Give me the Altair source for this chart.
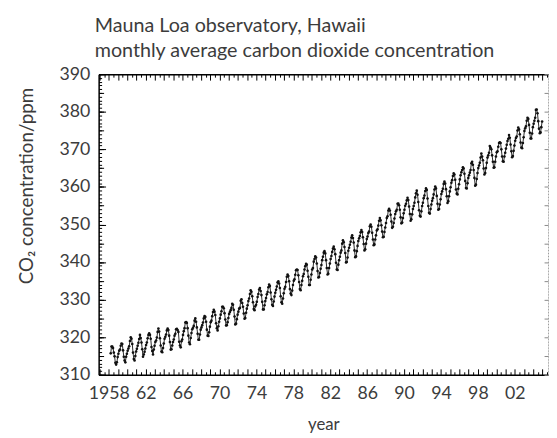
import altair as alt
import pandas as pd

# Monthly mean CO2 (ppm) at Mauna Loa, read per year (Jan..Dec); 1958 starts in March
co2_1958 = [315.7, 317.5, 317.5, 317.1, 315.9, 314.9, 313.2, 312.7, 313.3, 314.7]
co2_1959 = [315.6, 316.4, 316.7, 317.7, 318.3, 318.2, 316.5, 314.8, 313.8, 313.3, 314.8, 315.6]
co2_1960s = [
    [316.4, 317.0, 317.6, 319.0, 320.0, 319.6, 318.2, 315.9, 314.2, 313.8, 315.0, 316.2],
    [316.9, 317.7, 318.5, 319.5, 320.6, 319.8, 318.6, 316.8, 314.8, 315.4, 316.1, 317.0],
    [317.9, 318.6, 319.7, 320.6, 321.0, 320.6, 319.6, 317.4, 316.3, 315.4, 316.7, 317.7],
    [318.7, 319.1, 319.9, 321.4, 322.3, 321.5, 319.7, 317.8, 316.2, 316.0, 317.1, 318.3],
    [319.6, 320.1, 320.7, 321.8, 322.3, 321.9, 320.4, 318.7, 316.7, 316.8, 317.8, 318.7],
    [319.4, 320.4, 320.9, 322.1, 322.2, 321.9, 321.4, 318.8, 317.8, 317.3, 318.9, 319.4],
    [320.6, 321.6, 322.4, 323.9, 324.0, 323.8, 322.4, 320.4, 318.6, 318.1, 319.8, 321.1],
    [322.1, 322.5, 323.0, 324.4, 325.0, 324.1, 322.6, 320.9, 319.3, 319.3, 320.7, 322.0],
    [322.6, 323.2, 323.9, 325.0, 325.6, 325.4, 324.1, 322.0, 320.4, 320.3, 321.3, 322.8],
    [324.0, 324.4, 325.6, 326.7, 327.3, 326.8, 325.9, 323.7, 322.4, 321.8, 322.9, 324.1],
]
co2_1970s = [
    [325.0, 326.0, 326.9, 328.1, 328.1, 327.7, 326.4, 324.7, 323.1, 323.2, 324.0, 325.1],
    [326.2, 326.7, 327.2, 327.8, 328.9, 328.6, 327.3, 325.5, 323.4, 323.6, 324.8, 326.0],
    [326.8, 327.6, 327.8, 329.7, 330.1, 329.1, 328.1, 326.3, 324.9, 325.1, 326.5, 327.6],
    [328.5, 329.6, 330.3, 331.5, 332.5, 332.1, 330.9, 329.3, 327.5, 327.2, 328.2, 328.6],
    [329.4, 330.7, 331.5, 332.7, 333.1, 332.3, 331.2, 329.4, 327.4, 327.4, 328.5, 329.6],
    [330.4, 331.4, 332.0, 333.3, 334.0, 333.6, 331.9, 330.1, 328.6, 328.3, 329.5, 330.8],
    [331.8, 332.6, 333.5, 334.6, 334.9, 334.3, 333.1, 330.9, 329.3, 328.9, 330.3, 331.7],
    [332.9, 333.4, 334.7, 336.1, 336.7, 336.3, 334.9, 332.8, 331.6, 331.2, 332.4, 333.9],
    [335.0, 335.4, 336.6, 337.8, 338.0, 337.9, 336.5, 334.7, 332.8, 332.5, 333.9, 335.0],
    [336.2, 336.8, 338.0, 338.9, 339.5, 339.3, 337.7, 336.1, 333.9, 333.9, 335.3, 336.7],
]
co2_1980s = [
    [338.0, 338.4, 340.1, 340.8, 341.5, 341.2, 339.6, 337.6, 335.9, 336.0, 337.1, 338.2],
    [339.2, 340.5, 341.4, 342.5, 342.9, 342.3, 340.5, 338.4, 336.7, 336.9, 338.4, 339.6],
    [340.8, 341.6, 342.7, 343.6, 344.1, 343.4, 342.1, 339.8, 338.0, 337.9, 339.3, 340.5],
    [341.4, 342.5, 343.1, 344.9, 345.8, 345.3, 344.0, 342.4, 339.9, 340.0, 341.2, 343.0],
    [343.8, 344.6, 345.4, 346.5, 347.1, 346.4, 345.2, 343.1, 341.3, 341.5, 342.9, 344.3],
    [345.6, 346.3, 346.9, 347.9, 348.5, 348.0, 346.6, 344.8, 343.1, 343.4, 344.9, 346.1],
    [346.8, 347.7, 348.1, 349.5, 350.0, 349.4, 347.8, 346.0, 344.5, 344.7, 346.0, 347.1],
    [348.4, 348.7, 349.7, 351.0, 351.7, 351.1, 349.8, 348.1, 346.6, 346.7, 348.0, 349.2],
    [350.4, 351.7, 352.2, 353.7, 354.2, 353.7, 352.6, 350.8, 349.1, 349.4, 350.4, 351.6],
    [352.8, 353.5, 353.9, 355.5, 355.6, 355.1, 353.9, 351.9, 350.3, 350.5, 351.7, 353.0],
]
co2_1990s = [
    [353.9, 355.0, 355.5, 356.4, 357.1, 356.5, 354.8, 352.8, 351.0, 351.4, 352.7, 354.1],
    [354.9, 355.8, 357.2, 358.3, 359.0, 357.9, 356.0, 353.8, 352.3, 352.1, 353.5, 354.9],
    [355.8, 357.0, 357.7, 358.9, 359.6, 359.2, 356.9, 354.9, 353.1, 352.9, 354.1, 355.3],
    [356.3, 357.0, 358.0, 359.3, 360.1, 359.6, 357.6, 355.5, 353.9, 354.1, 355.3, 356.7],
    [358.1, 358.8, 359.5, 360.8, 361.4, 360.9, 359.4, 357.5, 355.7, 356.2, 357.5, 358.8],
    [359.9, 361.1, 361.8, 362.9, 363.6, 363.3, 361.9, 359.3, 358.2, 358.0, 359.5, 360.7],
    [362.0, 363.1, 363.9, 364.5, 365.2, 364.9, 363.5, 361.6, 359.7, 359.6, 361.0, 362.4],
    [363.1, 363.8, 364.5, 366.3, 366.7, 365.9, 364.5, 362.4, 360.3, 360.6, 362.1, 363.7],
    [365.0, 365.7, 366.4, 367.8, 368.9, 368.1, 367.1, 364.9, 363.3, 363.7, 365.0, 366.4],
    [367.8, 368.4, 369.1, 370.9, 370.5, 370.0, 368.4, 366.7, 365.1, 365.2, 366.7, 368.1],
]
co2_2000s = [
    [369.2, 369.5, 370.7, 371.7, 371.9, 371.7, 370.0, 368.1, 366.8, 366.7, 368.1, 369.1],
    [370.2, 371.2, 372.2, 372.8, 373.8, 373.1, 371.3, 369.5, 367.9, 368.2, 369.6, 371.0],
    [372.3, 373.0, 373.4, 375.0, 375.8, 375.3, 374.0, 371.8, 370.5, 370.3, 371.7, 373.2],
    [374.9, 375.6, 376.1, 377.6, 378.4, 378.1, 376.5, 374.4, 372.9, 372.9, 374.2, 375.9],
    [376.8, 377.6, 378.4, 380.5, 380.6, 379.6, 377.5, 375.5, 374.3, 374.5, 375.9, 377.4],
]

year_labels = [1958, 1962, 1966, 1970, 1974, 1978, 1982, 1986, 1990, 1994, 1998, 2002]
y_labels = [310, 320, 330, 340, 350, 360, 370, 380, 390]

rows = []
for m, v in enumerate(co2_1958):
    rows.append((1958 + (m + 2 + 0.5) / 12, v))
for m, v in enumerate(co2_1959):
    rows.append((1959 + (m + 0.5) / 12, v))
for start, block in [(1960, co2_1960s), (1970, co2_1970s), (1980, co2_1980s),
                     (1990, co2_1990s), (2000, co2_2000s)]:
    for i, yr in enumerate(block):
        for m, v in enumerate(yr):
            rows.append((start + i + (m + 0.5) / 12, v))
df = pd.DataFrame(rows, columns=["t", "co2"])

XDOM = [1956.9, 2005.6]
YDOM = [310, 390]
FONT = "Lato, 'DejaVu Sans'"
TXT = "#3c3c3c"

xs = alt.Scale(domain=XDOM, nice=False, zero=False)
ys = alt.Scale(domain=YDOM, nice=False, zero=False)

years = list(range(1957, 2006))
half_years = [y + 0.5 for y in range(1956, 2006)]
ppm1 = list(range(310, 391))
ppm5 = list(range(310, 391, 5))
ppm10 = list(range(310, 391, 10))


def tick_axis(orient, values, size, color="black"):
    return alt.Axis(orient=orient, values=values, tickSize=size, offset=-size,
                    labels=False, domain=False, grid=False, title=None,
                    tickColor=color, tickWidth=1)


main = alt.Chart(df).mark_line(
    color="#2a2a2a", strokeWidth=1,
    point=alt.OverlayMarkDef(filled=True, size=7, color="#111")
).encode(
    x=alt.X("t:Q", scale=xs, axis=alt.Axis(
        orient="bottom", values=year_labels, ticks=False, grid=False,
        domainColor="black", domainWidth=1.5,
        labelExpr="datum.value == 1958 ? '1958' : format(datum.value % 100, '02d')",
        labelFont=FONT, labelFontSize=18, labelColor=TXT, labelPadding=10,
        title="year", titleFont=FONT, titleFontSize=17, titleFontWeight="normal",
        titleColor=TXT, titlePadding=15)),
    y=alt.Y("co2:Q", scale=ys, axis=alt.Axis(
        orient="left", values=y_labels, ticks=False, grid=False,
        domainColor="black", domainWidth=1.5,
        labelFont=FONT, labelFontSize=18, labelColor=TXT, labelPadding=9,
        title="CO₂ concentration/ppm", titleFont=FONT, titleFontSize=19,
        titleFontWeight="normal", titleColor=TXT, titleAngle=-90,
        titleAlign="center", titleBaseline="middle", titleX=-73, titleY=113)),
)


def ghost(xaxis, yaxis):
    return alt.Chart(df).mark_point(opacity=0).encode(
        x=alt.X("t:Q", scale=xs, axis=xaxis),
        y=alt.Y("co2:Q", scale=ys, axis=yaxis),
    )


layers = [
    main,
    ghost(tick_axis("bottom", years, 6), tick_axis("left", ppm10, 7)),
    ghost(tick_axis("bottom", half_years, 3), tick_axis("left", ppm1, 3)),
    ghost(tick_axis("top", years, 6), tick_axis("left", ppm5, 5)),
    ghost(tick_axis("top", half_years, 3), tick_axis("right", ppm5, 4, "#888")),
    ghost(alt.Axis(orient="top", ticks=False, labels=False, grid=False, title=None,
                   domainColor="black", domainWidth=1.5),
          alt.Axis(orient="right", ticks=False, labels=False, grid=False, title=None,
                   domainColor="#999", domainWidth=1, domainDash=[1, 2])),
]

chart = alt.layer(*layers).resolve_axis(x="independent", y="independent").properties(
    width=456, height=305,
    autosize=alt.AutoSizeParams(type="none"),
    padding={"left": 92, "top": 64, "right": 1, "bottom": 60},
    title=alt.TitleParams(
        text=["Mauna Loa observatory, Hawaii", "monthly average carbon dioxide concentration"],
        anchor="start", frame="group", font=FONT, fontSize=20, fontWeight="normal",
        color=TXT, lineHeight=26, offset=4, dx=-4),
).configure_view(stroke=None).configure(background="white")

chart.save("out.html", embed_options={"renderer": "svg", "actions": False})
